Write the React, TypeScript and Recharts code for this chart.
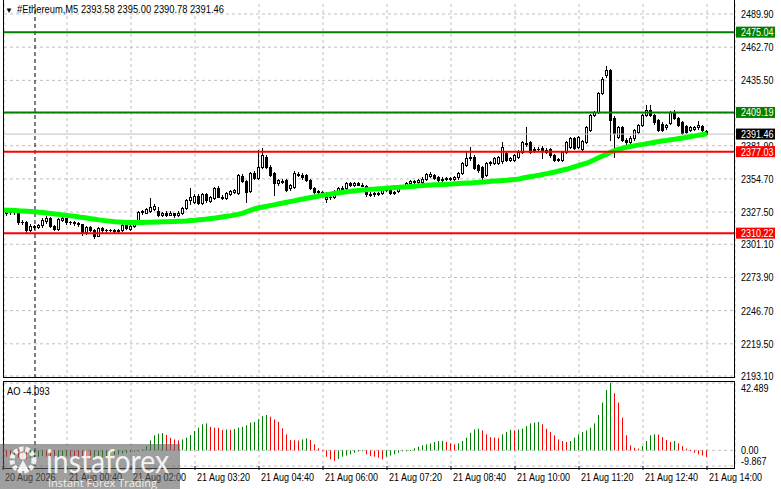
import React from 'react'
import { ComposedChart, Bar, Line, XAxis, YAxis, CartesianGrid, ReferenceLine } from 'recharts'

// 5-minute bars, 20 Aug 23:20 .. 21 Aug 14:00 (index 0..176)
const opens = [
  2321, 2327, 2328, 2327.5, 2328, 2319.5, 2319, 2313, 2316, 2315.5,
  2316.5, 2320, 2323, 2316, 2314, 2321, 2322.5, 2319, 2319.5, 2318.5,
  2317.5, 2311, 2315, 2313, 2308, 2314.5, 2313, 2312.5, 2313, 2312,
  2312.5, 2317, 2314, 2316, 2320, 2327.5, 2327, 2328.5, 2330, 2328.5,
  2325, 2326.5, 2325.5, 2326.5, 2325, 2327, 2330.5, 2337, 2336, 2341,
  2335, 2342, 2336.5, 2339, 2347, 2340, 2339, 2342.5, 2344, 2343.5,
  2357, 2353, 2345, 2359.5, 2355.5, 2364.5, 2372.5, 2364.5, 2359.5, 2351,
  2353, 2353.8, 2347, 2348, 2359, 2358, 2357.9, 2353.8, 2347, 2344,
  2344, 2338, 2340, 2340, 2345, 2347, 2347, 2351, 2350, 2351,
  2350, 2349, 2342, 2342, 2343, 2343, 2346, 2347.5, 2343, 2345,
  2348.5, 2349, 2351, 2353, 2352.5, 2352, 2355, 2357, 2357.9, 2356,
  2354, 2355, 2355.5, 2355, 2356, 2359.5, 2366, 2372, 2372.5, 2366,
  2364.5, 2358, 2368, 2368, 2368, 2369, 2376, 2370, 2370, 2373,
  2377, 2384, 2385, 2378, 2379, 2380, 2378, 2379, 2374, 2370.5,
  2370, 2377, 2381, 2388, 2381, 2379, 2385, 2394.8, 2407, 2409.5,
  2425, 2440, 2444, 2404.6, 2389, 2397, 2387, 2385, 2388, 2393,
  2399, 2407, 2411, 2407, 2403, 2400, 2397, 2400.5, 2409.5, 2404.5,
  2401, 2398, 2394.8, 2396, 2397, 2398, 2393.58,
]
const highs = [
  2329, 2330, 2329.5, 2330, 2329, 2321, 2320, 2317.5, 2317, 2318,
  2323, 2324.5, 2323.5, 2317, 2322.5, 2324.5, 2323, 2320.5, 2320, 2319,
  2318, 2316, 2316, 2313.5, 2315.5, 2315, 2314, 2314, 2313.5, 2313.5,
  2318, 2318, 2317, 2321, 2328.5, 2329.5, 2331, 2339, 2334, 2332,
  2327.5, 2328, 2328.5, 2327, 2328, 2332, 2338, 2347, 2342, 2342.5,
  2343, 2343, 2340.5, 2348, 2348.5, 2341.5, 2344, 2345.5, 2346.5, 2359,
  2358.5, 2354, 2360.5, 2361, 2378.4, 2380, 2374.5, 2366, 2360.5, 2355,
  2355, 2355, 2350.5, 2361, 2360.5, 2359.5, 2359, 2354.5, 2348, 2345.5,
  2345, 2344, 2341, 2345.5, 2348, 2348.5, 2352, 2352.5, 2352, 2352.5,
  2351.5, 2350, 2344, 2344, 2344, 2347, 2348, 2348.5, 2345, 2349.5,
  2350, 2352, 2354, 2354, 2354.5, 2356, 2359.5, 2360, 2359, 2357,
  2356, 2356.5, 2356.5, 2357, 2360.5, 2368.5, 2377, 2381, 2374, 2367,
  2365.5, 2368.5, 2369.5, 2373, 2373.5, 2385, 2377, 2373, 2375, 2378,
  2386, 2397, 2386, 2381, 2381, 2381.5, 2380, 2380, 2375, 2372,
  2377.5, 2386, 2389, 2389, 2390, 2387, 2398, 2408, 2410.5, 2426,
  2438, 2447.3, 2445, 2406, 2398, 2398, 2388, 2389.5, 2395.5, 2400,
  2408, 2415, 2415, 2408, 2404, 2401, 2400, 2410.5, 2411, 2405.5,
  2402, 2399, 2398, 2398, 2402, 2399, 2395,
]
const lows = [
  2319, 2325, 2326, 2326, 2318, 2317.5, 2311.5, 2312, 2314, 2314.5,
  2315, 2318.5, 2315, 2312.5, 2313, 2320, 2318, 2318, 2317, 2316,
  2309, 2309.5, 2312, 2306, 2307.5, 2311, 2311.5, 2312, 2311, 2311,
  2312, 2313.5, 2313, 2315, 2319, 2326, 2326.5, 2327.5, 2329, 2324,
  2324, 2324.5, 2325, 2323.5, 2324, 2326, 2330, 2334.5, 2335, 2334,
  2334, 2336, 2335.5, 2338, 2339.5, 2338, 2338, 2341.5, 2343, 2342.5,
  2352, 2336, 2344, 2354.5, 2354.5, 2363.5, 2363.5, 2357, 2341.5, 2350,
  2351, 2344.5, 2345.5, 2347, 2357, 2355, 2353, 2346.5, 2343, 2343,
  2342.5, 2335.5, 2338.5, 2339, 2344, 2345, 2346, 2349, 2349, 2349.5,
  2348.5, 2341, 2340.5, 2341, 2341.5, 2342, 2345, 2342, 2342, 2344,
  2347.5, 2348, 2350, 2351.5, 2351.5, 2351, 2354, 2356, 2354.5, 2352.5,
  2353, 2354, 2353.5, 2354, 2355, 2358.5, 2365, 2370.5, 2363, 2360.5,
  2355, 2357, 2366.5, 2367, 2367, 2368, 2369, 2369, 2369, 2372,
  2376, 2382, 2376, 2377, 2377.5, 2372, 2376, 2373, 2369, 2369.5,
  2369, 2376, 2380, 2379, 2380, 2378, 2384, 2394, 2406, 2408.5,
  2424, 2438, 2386.6, 2372.6, 2388, 2385.5, 2383.5, 2384, 2387, 2392,
  2398, 2406, 2406, 2400, 2394, 2394, 2396, 2399.5, 2403.5, 2398,
  2391.5, 2392, 2394, 2395, 2396, 2394, 2390.78,
]
const closes = [
  2327, 2328, 2327.5, 2328.5, 2319.5, 2319, 2313, 2316, 2315.5, 2316.5,
  2321, 2323, 2316, 2314, 2321.5, 2323, 2319, 2319.5, 2318.5, 2317.5,
  2311, 2315, 2313, 2308, 2314.5, 2313, 2312.5, 2313, 2312, 2312.5,
  2317, 2314.5, 2316, 2320, 2327.5, 2328, 2330, 2331.5, 2332.5, 2325,
  2326.5, 2325.5, 2326.5, 2325, 2327, 2330.5, 2337, 2339.5, 2341, 2335,
  2342, 2337, 2339.5, 2347, 2340, 2339, 2343, 2344.5, 2345.5, 2358,
  2353, 2344, 2359.5, 2355.5, 2364.5, 2374, 2364.5, 2358, 2351.3, 2353.5,
  2352, 2345.6, 2349.5, 2359.5, 2358, 2356, 2353.8, 2347.2, 2344, 2344.5,
  2343.5, 2340, 2339.5, 2345, 2347, 2346, 2351, 2350, 2351, 2350,
  2349, 2342, 2341.5, 2343, 2342.5, 2346, 2347, 2343, 2344, 2348.5,
  2349, 2351, 2353, 2352.5, 2353.5, 2355, 2358.5, 2359, 2355.5, 2354,
  2355, 2355.5, 2354.5, 2356, 2359.5, 2367.7, 2372, 2373, 2364, 2362,
  2356, 2367.7, 2368.5, 2372, 2372.5, 2381, 2370, 2371.5, 2374, 2377,
  2385, 2383, 2377, 2379, 2379.5, 2378, 2377, 2374, 2370, 2371,
  2376.7, 2385, 2388, 2380, 2389, 2386, 2397, 2407, 2409.5, 2425,
  2437, 2444, 2403, 2392.3, 2397, 2386.6, 2385, 2388.5, 2394.8, 2399,
  2407, 2411, 2407, 2401, 2395, 2395, 2399, 2409.5, 2404.5, 2399,
  2392.3, 2393, 2397.2, 2397, 2398.5, 2395, 2391.46,
]
const maValues = [
  2329.2, 2329.0, 2328.9, 2328.7, 2328.5, 2328.4, 2328.2, 2328.0, 2327.7, 2327.4,
  2327.1, 2326.7, 2326.4, 2326.0, 2325.6, 2325.2, 2324.8, 2324.4, 2324.0, 2323.5,
  2323.1, 2322.6, 2322.1, 2321.6, 2321.1, 2320.7, 2320.3, 2319.9, 2319.6, 2319.4,
  2319.2, 2319.0, 2319.0, 2319.0, 2319.0, 2319.0, 2319.1, 2319.2, 2319.4, 2319.4,
  2319.5, 2319.6, 2319.7, 2319.8, 2319.9, 2320.0, 2320.2, 2320.5, 2320.8, 2321.2,
  2321.5, 2321.8, 2322.2, 2322.6, 2323.1, 2323.6, 2324.1, 2324.6, 2325.2, 2325.8,
  2326.7, 2328.0, 2329.2, 2330.2, 2331.0, 2331.7, 2332.3, 2333.0, 2333.6, 2334.3,
  2334.9, 2335.6, 2336.3, 2336.9, 2337.6, 2338.2, 2338.9, 2339.5, 2340.1, 2340.7,
  2341.3, 2341.8, 2342.3, 2342.9, 2343.4, 2343.8, 2344.2, 2344.6, 2344.9, 2345.3,
  2345.6, 2345.9, 2346.2, 2346.4, 2346.7, 2346.9, 2347.2, 2347.4, 2347.7, 2347.8,
  2348.0, 2348.2, 2348.5, 2348.7, 2349.0, 2349.2, 2349.5, 2349.7, 2349.9, 2350.0,
  2350.2, 2350.4, 2350.5, 2350.7, 2350.9, 2351.1, 2351.3, 2351.4, 2351.7, 2351.9,
  2352.2, 2352.4, 2352.7, 2352.9, 2353.1, 2353.4, 2353.6, 2354.0, 2354.3, 2354.6,
  2355.4, 2356.0, 2356.6, 2357.2, 2357.7, 2358.4, 2359.0, 2359.7, 2360.4, 2361.2,
  2362.0, 2362.8, 2363.8, 2364.8, 2365.8, 2366.8, 2367.7, 2369.1, 2370.6, 2372.2,
  2373.7, 2375.2, 2376.8, 2378.0, 2379.0, 2379.9, 2380.7, 2381.4, 2382.0, 2382.6,
  2383.0, 2383.6, 2384.2, 2384.8, 2385.4, 2385.9, 2386.3, 2386.8, 2387.3, 2387.8,
  2388.3, 2388.8, 2389.4, 2390.0, 2390.6, 2391.1, 2391.6,
]
const aoValues = [
  -3.5, -4.0, -4.2, -3.8, -4.5, -5.0, -5.2, -4.8, -4.4, -4.0,
  -3.6, -3.9, -4.3, -4.6, -4.2, -3.8, -3.5, -3.8, -4.1, -4.4,
  -4.9, -5.3, -5.6, -5.2, -4.8, -4.5, -4.0, -3.4, -2.9, -2.5,
  -2.0, -1.6, -1.1, -0.6, -0.2, 0.6, 2.7, 6.3, 9.5, 10.5,
  10.9, 9.8, 8.0, 6.9, 6.3, 6.9, 8.0, 9.7, 12.2, 14.3,
  16.4, 17.0, 14.9, 14.3, 14.2, 12.8, 13.2, 12.9, 13.4, 14.3,
  14.9, 15.8, 17.5, 17.9, 19.6, 21.7, 22.3, 21.2, 19.5, 17.9,
  13.9, 10.1, 6.5, 6.3, 6.2, 6.9, 7.6, 6.5, 3.8, 1.3,
  -0.4, -4.0, -5.7, -6.7, -5.3, -4.0, -3.3, -2.5, -1.5, -0.8,
  -0.4, -2.5, -3.5, -4.0, -4.6, -5.7, -4.0, -3.2, -2.5, -1.5,
  -0.6, -0.2, 0.2, 1.3, 2.3, 3.2, 3.8, 4.4, 5.3, 5.9,
  6.0, 5.3, 4.4, 3.8, 4.4, 5.9, 8.0, 11.1, 13.2, 13.7,
  12.6, 10.1, 8.3, 8.0, 7.7, 10.1, 11.6, 12.9, 12.6, 13.2,
  13.7, 15.4, 17.0, 17.5, 17.9, 16.4, 13.7, 11.6, 9.5, 6.9,
  5.9, 5.3, 5.9, 8.0, 10.1, 11.6, 12.6, 14.3, 17.0, 22.3,
  30.1, 38.1, 42.489, 36.0, 30.1, 20.6, 9.5, 3.2, 1.7, 1.1,
  2.7, 5.9, 9.5, 10.1, 10.0, 8.4, 6.5, 5.3, 5.9, 4.4,
  2.7, 1.1, 0.1, -1.5, -2.5, -3.2, -4.093,
]

const timeTicks = [0, 16, 32, 48, 64, 80, 96, 112, 128, 144, 160, 176]
const timeLabels = [
  '20 Aug 2026', '21 Aug 00:40', '21 Aug 02:00', '21 Aug 03:20', '21 Aug 04:40', '21 Aug 06:00',
  '21 Aug 07:20', '21 Aug 08:40', '21 Aug 10:00', '21 Aug 11:20', '21 Aug 12:40', '21 Aug 14:00',
]
const dayStart = 8 // 21 Aug 00:00
const priceTicks = [2489.9, 2462.7, 2435.5, 2408.7, 2381.9, 2354.7, 2327.5, 2301.1, 2273.9, 2246.7, 2219.5, 2193.1]
const aoTicks = [42.489, 0, -9.867]
const aoTickLabels = ['42.489', '0.00', '-9.867']
const resistance = [2475.04, 2409.19]
const support = [2377.03, 2310.22]
const symbol = '#Ethereum,M5'

const FONT = '"Liberation Sans", Arial, sans-serif'
const SX = 0.82 // horizontal squeeze to mimic the terminal's narrow font
const GRID = '#c0c0c0'

const last = closes.length - 1
const lastPrice = closes[last]
const rows = closes.map((close, i) => ({
  i,
  open: opens[i],
  high: highs[i],
  low: lows[i],
  close,
  range: [lows[i], highs[i]],
  ma: maValues[i],
  ao: aoValues[i],
  aoUp: i === 0 || aoValues[i] >= aoValues[i - 1],
}))
// regular price ticks first, the level tags last so they paint on top
const yTicks = [...priceTicks, ...support, ...resistance, lastPrice]

function tagColor(v: number) {
  if (resistance.includes(v)) return '#008000'
  if (support.includes(v)) return '#ff0000'
  if (v === lastPrice) return '#000'
  return null
}

function Narrow({ x, y, dy = 0, fill = '#000', children }: any) {
  return (
    <text x={x / SX} y={y} dy={dy} transform={`scale(${SX} 1)`} fontSize={11} fontFamily={FONT} fill={fill}>
      {children}
    </text>
  )
}

function Candle(props: any) {
  const { x, y, width, height, payload } = props
  if (x == null || y == null || !payload) return null
  const { open, close, high, low } = payload
  const cx = Math.floor(x + width / 2) + 0.5
  const span = high - low || 1
  const py = (v: number) => y + ((high - v) / span) * height
  const top = Math.round(py(Math.max(open, close))) + 0.5
  const bot = Math.round(py(Math.min(open, close))) + 0.5
  const up = close >= open
  return (
    <g>
      <line x1={cx} x2={cx} y1={Math.round(y)} y2={Math.round(y + height) + 1} stroke="#000" />
      {bot - top < 1 ? (
        <line x1={cx - 1.5} x2={cx + 1.5} y1={top} y2={top} stroke="#000" />
      ) : (
        <rect x={cx - 1} y={top} width={2} height={bot - top} fill={up ? '#fff' : '#000'} stroke="#000" />
      )}
    </g>
  )
}

function AoBar(props: any) {
  const { x, y, width, height, payload } = props
  if (x == null || y == null || !payload) return null
  const cx = Math.floor(x + width / 2)
  const top = Math.min(y, y + height)
  const h = Math.max(Math.abs(height), 1)
  return <rect x={cx} y={top} width={1} height={h} fill={payload.aoUp ? '#008000' : '#ff0000'} />
}

function PriceTick({ x, y, payload }: any) {
  const v = payload.value
  const bg = tagColor(v)
  if (!bg) return <Narrow x={x} y={y} dy={4}>{v.toFixed(2)}</Narrow>
  return (
    <g>
      <rect x={x - 5} y={y - 5.5} width={39} height={11} fill={bg} />
      <Narrow x={x} y={y} dy={4} fill="#fff">{v.toFixed(2)}</Narrow>
    </g>
  )
}

function AoTick({ x, y, payload }: any) {
  const k = aoTicks.indexOf(payload.value)
  const dy = k === 0 ? 9 : k === 2 ? -1 : 4
  return <Narrow x={x} y={y} dy={dy}>{aoTickLabels[k]}</Narrow>
}

function TimeTick({ x, y, payload }: any) {
  const k = timeTicks.indexOf(payload.value)
  return <Narrow x={x + 2} y={y} dy={9}>{timeLabels[k]}</Narrow>
}

function Watermark() {
  return (
    <div style={{ position: 'absolute', left: 0, top: 444, width: 180, height: 45, background: 'rgba(95,95,95,0.6)', overflow: 'hidden' }}>
      <svg width={44} height={45} style={{ position: 'absolute', left: 0, top: 0 }}>
        <circle cx={23} cy={16} r={11} fill="none" stroke="rgba(255,255,255,0.85)" strokeWidth={5} strokeDasharray="4 2" />
        <circle cx={23} cy={12} r={3.5} fill="rgba(255,255,255,0.85)" />
        <path d="M17 27 L23 16 L29 27 Z" fill="rgba(255,255,255,0.85)" />
      </svg>
      <div style={{ position: 'absolute', left: 46, top: -4, fontFamily: 'Lato, "Open Sans", sans-serif', fontSize: 33, color: 'rgba(255,255,255,0.88)', transform: 'scaleX(0.86)', transformOrigin: 'left', whiteSpace: 'nowrap' }}>
        instaforex
      </div>
      <div style={{ position: 'absolute', left: 48, top: 31, fontFamily: '"Open Sans", sans-serif', fontSize: 11, color: 'rgba(255,255,255,0.85)', whiteSpace: 'nowrap' }}>
        Instant Forex Trading
      </div>
    </div>
  )
}

export default function App() {
  const header = `${symbol}  ${opens[last].toFixed(2)} ${highs[last].toFixed(2)} ${lows[last].toFixed(2)} ${closes[last].toFixed(2)}`
  return (
    <div style={{ position: 'absolute', left: 0, top: 0, width: 781, height: 489, background: '#fff', overflow: 'hidden', fontFamily: FONT }}>
      <div style={{ position: 'absolute', left: 0, top: 0 }}>
        <ComposedChart width={781} height={380} data={rows} margin={{ top: 4, right: 0, bottom: 2, left: 4 }}>
          <CartesianGrid stroke={GRID} strokeDasharray="3 3" horizontalValues={priceTicks} />
          <XAxis dataKey="i" type="number" domain={[0.25, 183]} allowDataOverflow ticks={timeTicks} hide />
          <YAxis
            orientation="right"
            width={46}
            type="number"
            domain={[2191.46, 2498.1]}
            allowDataOverflow
            ticks={yTicks}
            interval={0}
            axisLine={false}
            tickLine={false}
            tickSize={0}
            tickMargin={6}
            tick={<PriceTick />}
          />
          <ReferenceLine x={dayStart} stroke="#000" strokeDasharray="4 3" />
          <ReferenceLine y={lastPrice} stroke="#c0c0c0" />
          <Bar dataKey="range" barSize={3} shape={<Candle />} isAnimationActive={false} />
          <Line dataKey="ma" type="linear" stroke="#00ff00" strokeWidth={5} dot={false} activeDot={false} isAnimationActive={false} />
          {resistance.map((v) => (
            <ReferenceLine key={v} y={v} stroke="#008000" strokeWidth={2} />
          ))}
          {support.map((v) => (
            <ReferenceLine key={v} y={v} stroke="#ff0000" strokeWidth={2} />
          ))}
        </ComposedChart>
      </div>
      <div style={{ position: 'absolute', left: 3, top: -1, width: 732, height: 379, border: '1px solid #000', boxSizing: 'border-box', pointerEvents: 'none' }} />
      <div style={{ position: 'absolute', left: 0, top: 381 }}>
        <ComposedChart width={781} height={108} data={rows} margin={{ top: 2, right: 0, bottom: 0, left: 4 }}>
          <CartesianGrid stroke={GRID} strokeDasharray="3 3" />
          <XAxis
            dataKey="i"
            type="number"
            domain={[0.25, 183]}
            allowDataOverflow
            ticks={timeTicks}
            interval={0}
            height={23}
            axisLine={false}
            tickSize={4}
            tickLine={{ stroke: '#000' }}
            tickMargin={2}
            tick={<TimeTick />}
          />
          <YAxis
            orientation="right"
            width={46}
            type="number"
            domain={[-9.867, 42.489]}
            allowDataOverflow
            ticks={aoTicks}
            interval={0}
            axisLine={false}
            tickLine={false}
            tickSize={0}
            tickMargin={6}
            tick={<AoTick />}
          />
          <ReferenceLine x={dayStart} stroke="#000" strokeDasharray="4 3" />
          <Bar dataKey="ao" barSize={1} shape={<AoBar />} isAnimationActive={false} />
        </ComposedChart>
      </div>
      <div style={{ position: 'absolute', left: 3, top: 381, width: 732, height: 88, border: '1px solid #000', boxSizing: 'border-box', pointerEvents: 'none' }} />
      <div style={{ position: 'absolute', left: 5, top: 3, fontSize: 11, color: '#000', whiteSpace: 'nowrap' }}>
        <span style={{ fontSize: 8, marginRight: 4 }}>▼</span>
        <span style={{ display: 'inline-block', transform: `scaleX(${SX + 0.03})`, transformOrigin: 'left' }}>{header}</span>
      </div>
      <div style={{ position: 'absolute', left: 7, top: 385, fontSize: 11, color: '#000', transform: `scaleX(${SX + 0.03})`, transformOrigin: 'left' }}>
        AO {aoValues[last].toFixed(3)}
      </div>
      <Watermark />
    </div>
  )
}
